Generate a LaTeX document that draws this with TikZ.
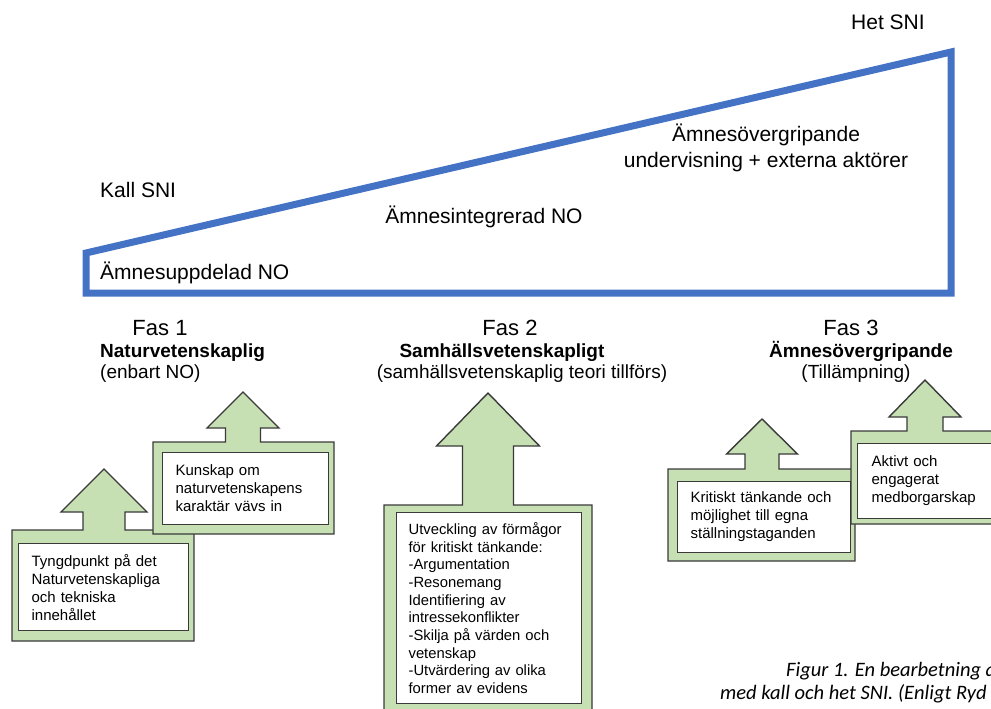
\documentclass[tikz,border=0pt]{standalone}
\usepackage{fontspec}
\setmainfont{Liberation Sans}
\newfontfamily\capfont{Carlito}
\definecolor{sniblue}{HTML}{4472C4}
\definecolor{callgreen}{HTML}{C6E0B4}
\definecolor{calledge}{HTML}{3A3A3A}

\begin{document}
\begin{tikzpicture}[x=1pt,y=-1pt]

\def\upcallout#1#2#3#4#5#6#7#8#9{%
  \draw[callout] (#1,#3) -- ({#5-#6},#3) -- ({#5-#6},#8) -- ({#5-#7},#8) -- (#5,#9)
    -- ({#5+#7},#8) -- ({#5+#6},#8) -- ({#5+#6},#3) -- (#2,#3) -- (#2,#4) -- (#1,#4) -- cycle;}

\tikzset{sniline/.style = {draw=sniblue, line width=7pt, line join=miter, miter limit=2},
  lbl/.style = {font=\fontsize{21}{25}\selectfont, inner sep=0pt, anchor=base},
  faslbl/.style = {font=\fontsize{22}{26}\selectfont, inner sep=0pt, anchor=base},
  fasbold/.style = {font=\fontsize{19}{22}\selectfont\bfseries, inner sep=0pt, anchor=base},
  fassub/.style = {font=\fontsize{19}{23}\selectfont, inner sep=0pt, anchor=base},
  callout/.style = {draw=calledge, fill=callgreen, line width=1.4pt, line join=miter},
  txtbox/.style = {draw=calledge, fill=white, line width=1.2pt, align=left, anchor=north west,
    inner xsep=13pt, inner ysep=0pt, font=\fontsize{15}{18}\selectfont},
  caption/.style = {font=\capfont\itshape\fontsize{20.5}{24}\selectfont, inner sep=0pt, anchor=base west}}

\clip (0,0) rectangle (991,709);

% the wedge from cold to hot SNI
\draw[sniline] (86,293) -- (86,253) -- (951,52) -- (951,293) -- cycle;

\node[lbl] (het) at (888,30) {Het SNI};
\node[lbl, anchor=base west] (kall) at (100,197) {Kall SNI};
\node[lbl] (integ) at (484,223) {Ämnesintegrerad NO};
\node[lbl] (overgr) at (766,141) {Ämnesövergripande};
\node[lbl] (extern) at (766,167) {undervisning + externa aktörer};
\node[lbl, anchor=base west] (uppdel) at (100,279) {Ämnesuppdelad NO};

% phases
\node[faslbl] (fas1) at (160,335) {Fas 1};
\node[fasbold, anchor=base west] (fas1a) at (100,357) {Naturvetenskaplig};
\node[fassub, anchor=base west] (fas1b) at (100,378) {(enbart NO)};
\node[faslbl] (fas2) at (510,335) {Fas 2};
\node[fasbold] (fas2a) at (502,357) {Samhällsvetenskapligt};
\node[fassub] (fas2b) at (522,378) {(samhällsvetenskaplig teori tillförs)};
\node[faslbl] (fas3) at (851,335) {Fas 3};
\node[fasbold] (fas3a) at (861,357) {Ämnesövergripande};
\node[fassub] (fas3b) at (856,378) {(Tillämpning)};

% up arrows with boxes
\upcallout{12}{194}{530}{641}{104}{21}{43}{512}{469}
\node[txtbox, minimum height=87pt, text width=144pt] (boxa) at (18,543)
  {Tyngdpunkt på det\\Naturvetenskapliga\\och tekniska\\innehållet};

\upcallout{153}{334}{442}{534}{243}{17.5}{36}{428}{392}
\node[txtbox, minimum height=72pt, text width=140pt] (boxb) at (162,452)
  {Kunskap om\\naturvetenskapens\\karaktär vävs in};

\upcallout{384}{592}{505}{720}{488}{25.5}{51.5}{446}{393}
\node[txtbox, minimum height=191pt, text width=161pt, inner xsep=12pt,
  font=\fontsize{14.8}{17.7}\selectfont] (boxc) at (396,512)
  {Utveckling av förmågor\\för kritiskt tänkande:\\-Argumentation\\-Resonemang\\Identifiering av\\intressekonflikter\\-Skilja på värden och\\vetenskap\\-Utvärdering av olika\\former av evidens};

\upcallout{668}{855}{469}{561}{762}{17}{35.5}{454}{419}
\node[txtbox, minimum height=71pt, text width=147pt] (boxd) at (677,481)
  {Kritiskt tänkande och\\möjlighet till egna\\ställningstaganden};

\upcallout{851}{1005}{431}{524}{925}{18}{36}{417}{380}
\node[txtbox, minimum height=75pt, text width=108pt, inner xsep=14pt] (boxe) at (857,443)
  {Aktivt och\\engagerat\\medborgarskap};

% caption
\node[caption] (cap1) at (786,676) {Figur 1. En bearbetning av};
\node[caption] (cap2) at (720,699) {med kall och het SNI. (Enligt Ryd};

\end{tikzpicture}
\end{document}
